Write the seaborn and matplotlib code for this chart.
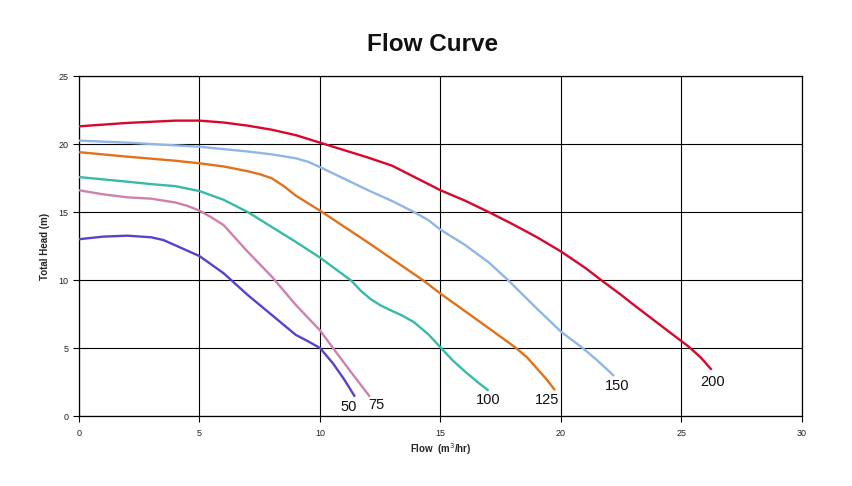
import matplotlib
matplotlib.use("Agg")
import matplotlib.pyplot as plt
import seaborn as sns
import pandas as pd

# ---- data ----
models = ["200", "150", "125", "100", "75", "50"]

flow_200 = [0, 2, 4, 5, 6, 7, 8, 9, 10, 11, 12, 13, 14, 15, 16, 17, 18, 19, 20, 21, 21.7, 22.5, 23, 24, 25, 25.3, 25.8, 26.25]
head_200 = [21.3, 21.55, 21.72, 21.72, 21.58, 21.35, 21.05, 20.65, 20.1, 19.55, 19.0, 18.4, 17.5, 16.6, 15.85, 15.0, 14.1, 13.15, 12.1, 10.9, 9.95, 8.9, 8.2, 6.85, 5.5, 5.1, 4.3, 3.4]

flow_150 = [0, 2, 4, 5, 7, 8, 9, 9.5, 10, 11, 12, 13, 13.9, 14.5, 15, 16, 17, 17.8, 19, 20, 20.9, 21.5, 22.2]
head_150 = [20.25, 20.1, 19.9, 19.8, 19.45, 19.24, 18.95, 18.7, 18.3, 17.45, 16.6, 15.8, 15.0, 14.4, 13.7, 12.6, 11.3, 10.0, 7.9, 6.2, 5.0, 4.1, 2.95]

flow_125 = [0, 2, 4, 5, 6, 7, 7.5, 8, 8.5, 9, 10, 12, 14.3, 15, 16.5, 18.1, 18.6, 19, 19.4, 19.75]
head_125 = [19.4, 19.07, 18.77, 18.58, 18.35, 18.0, 17.78, 17.48, 16.9, 16.2, 15.1, 12.75, 9.95, 9.0, 7.1, 5.05, 4.3, 3.5, 2.7, 1.9]

flow_100 = [0, 2, 3, 4, 5, 6, 7, 8, 9, 10, 11.3, 11.7, 12.1, 12.5, 12.9, 13.4, 13.9, 14.5, 15, 15.5, 16, 16.5, 17]
head_100 = [17.57, 17.23, 17.05, 16.9, 16.54, 15.9, 15.0, 13.9, 12.8, 11.65, 9.95, 9.2, 8.6, 8.15, 7.8, 7.4, 6.9, 6.0, 5.05, 4.1, 3.3, 2.55, 1.86]

flow_75 = [0, 1, 2, 3, 4, 4.5, 5, 5.5, 6, 6.5, 7, 8, 9, 10, 10.54, 11.3, 12.07]
head_75 = [16.6, 16.3, 16.08, 15.98, 15.7, 15.45, 15.1, 14.6, 14.04, 13.06, 12.08, 10.25, 8.16, 6.3, 5.0, 3.2, 1.42]

flow_50 = [0, 1, 2, 3, 3.5, 4, 5, 6, 7, 8, 9, 9.5, 10, 10.54, 11.0, 11.45]
head_50 = [13.0, 13.19, 13.26, 13.14, 12.94, 12.55, 11.76, 10.5, 8.9, 7.43, 5.96, 5.5, 5.0, 3.87, 2.7, 1.42]

label_x = [26.3, 22.35, 19.43, 16.96, 12.35, 11.18]
label_y = [2.5, 2.2, 1.18, 1.18, 0.81, 0.69]

colors = ["#d9072b", "#8fb7e6", "#e2711a", "#35bba8", "#cf80ae", "#5a40cf"]

x_ticks = [0, 5, 10, 15, 20, 25, 30]
y_ticks = [0, 5, 10, 15, 20, 25]

flows = [flow_200, flow_150, flow_125, flow_100, flow_75, flow_50]
heads = [head_200, head_150, head_125, head_100, head_75, head_50]

rows = []
for m, fx, hy in zip(models, flows, heads):
    for a, b in zip(fx, hy):
        rows.append({"model": m, "flow": a, "head": b})
df = pd.DataFrame(rows)

# ---- plot ----
sns.set_style("white")
plt.rcParams["font.family"] = ["Liberation Sans", "DejaVu Sans"]

fig = plt.figure(figsize=(8.52, 4.86), dpi=100)
ax = fig.add_axes([0.0927, 0.144, 0.8486, 0.6996])

sns.lineplot(data=df, x="flow", y="head", hue="model", hue_order=models,
             palette=colors, estimator=None, sort=False, linewidth=1.7,
             legend=False, ax=ax, zorder=3)
for ln in ax.get_lines():
    ln.set_solid_joinstyle("round")
    ln.set_solid_capstyle("butt")

for m, lx, ly in zip(models, label_x, label_y):
    ax.text(lx, ly, m, ha="center", va="center", fontsize=10.5, color="#111111", zorder=4)

ax.set_xlim(0, 30)
ax.set_ylim(0, 25)
ax.set_xticks(x_ticks)
ax.set_yticks(y_ticks)
ax.grid(True, color="black", linewidth=0.8)
ax.set_axisbelow(True)
for s in ax.spines.values():
    s.set_color("black")
    s.set_linewidth(0.9)
ax.tick_params(axis="both", direction="out", length=4, width=0.8, color="black",
               labelsize=6.5, labelcolor="#222222", bottom=True, left=True)
ax.tick_params(axis="x", pad=5)

ax.set_xlabel("Flow  (m$^3$/hr)", fontsize=7, fontweight="bold", labelpad=3)
ax.set_ylabel("Total Head (m)", fontsize=7, fontweight="bold", labelpad=6)
fig.text(0.508, 0.908, "Flow Curve", ha="center", va="center", fontsize=17.5, fontweight="bold", color="#111111")

fig.savefig("out.png", dpi=100, facecolor="white")
